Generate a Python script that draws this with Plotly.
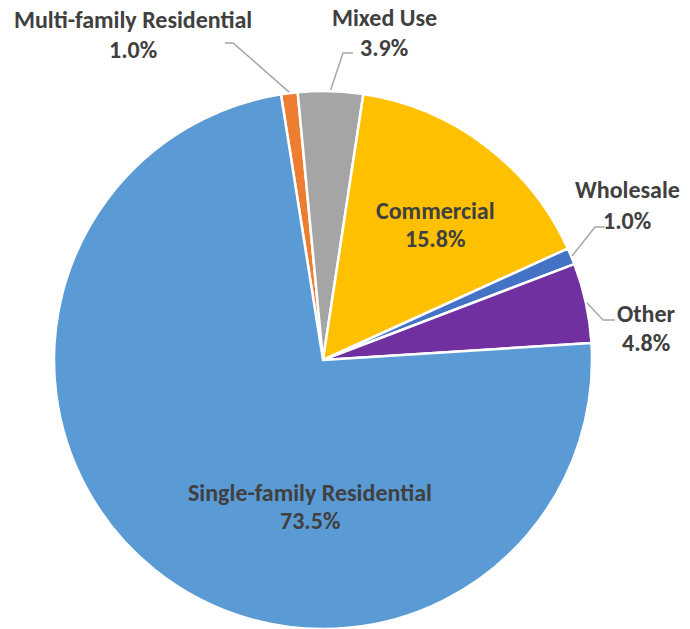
import math
import plotly.graph_objects as go

# Share of accounts by customer class (percent)
categories = ["Multi-family Residential", "Mixed Use", "Commercial",
              "Wholesale", "Other", "Single-family Residential"]
shares = [1.0, 3.9, 15.8, 1.0, 4.8, 73.5]
colors = ["#ED7D31", "#A5A5A5", "#FFC000", "#4472C4", "#7030A0", "#5B9BD5"]

W, H = 690, 629
CX, CY, R = 323, 360, 269   # pie centre / radius in pixels
ROTATION = -9               # start angle of the first slice (deg, clockwise from 12 o'clock)

TEXT_COLOR = "#404040"
FONT = "Carlito, Calibri, Lato, sans-serif"
FSIZE = 24

fig = go.Figure(go.Pie(
    labels=categories,
    values=shares,
    sort=False,
    direction="clockwise",
    rotation=ROTATION,
    marker=dict(colors=colors, line=dict(color="white", width=2.5)),
    textinfo="none",
    hoverinfo="label+percent",
    domain=dict(x=[(CX - R) / W, (CX + R) / W], y=[(H - CY - R) / H, (H - CY + R) / H]),
    showlegend=False,
))


def px(x, y):
    return x / W, 1 - y / H


# mid-angle of each slice, in degrees clockwise from 12 o'clock
total = sum(shares)
mid = {}
acc = ROTATION
for name, v in zip(categories, shares):
    ang = v / total * 360
    mid[name] = acc + ang / 2
    acc += ang


def edge_point(name, extra=0):
    a = math.radians(mid[name])
    return CX + (R + extra) * math.sin(a), CY - (R + extra) * math.cos(a)


# label placement: centre x, y of name line, y of value line; leader elbows
labels = {
    "Multi-family Residential": dict(x=133, y1=20, y2=50, elbow=(233, 43), end=(225, 43)),
    "Mixed Use": dict(x=384, y1=18, y2=48, elbow=(343, 53), end=(353, 53)),
    "Commercial": dict(x=435, y1=210, y2=238, elbow=None, end=None),
    "Wholesale": dict(x=627, y1=190, y2=220, elbow=(595, 227), end=(605, 227)),
    "Other": dict(x=646, y1=313, y2=342, elbow=(603, 320), end=(615, 320)),
    "Single-family Residential": dict(x=310, y1=492, y2=520, elbow=None, end=None),
}

annotations = []
shapes = []
for name, v in zip(categories, shares):
    info = labels[name]
    for text, yy in ((name, info["y1"]), (f"{v:.1f}%", info["y2"])):
        x, y = px(info["x"], yy)
        annotations.append(dict(
            x=x, y=y, xref="paper", yref="paper",
            text=f"<b>{text}</b>",
            showarrow=False, xanchor="center", yanchor="middle",
            font=dict(family=FONT, size=FSIZE, color=TEXT_COLOR),
        ))
    if info["elbow"]:
        sx, sy = edge_point(name, extra=1)
        ex, ey = info["elbow"]
        tx, ty = info["end"]
        path = f"M {sx/W},{1-sy/H} L {ex/W},{1-ey/H} L {tx/W},{1-ty/H}"
        shapes.append(dict(type="path", path=path, xref="paper", yref="paper",
                           line=dict(color="#A6A6A6", width=1.5)))

fig.update_layout(
    width=W, height=H,
    margin=dict(l=0, r=0, t=0, b=0),
    paper_bgcolor="white",
    plot_bgcolor="white",
    annotations=annotations,
    shapes=shapes,
)

fig.write_html("out.html")
